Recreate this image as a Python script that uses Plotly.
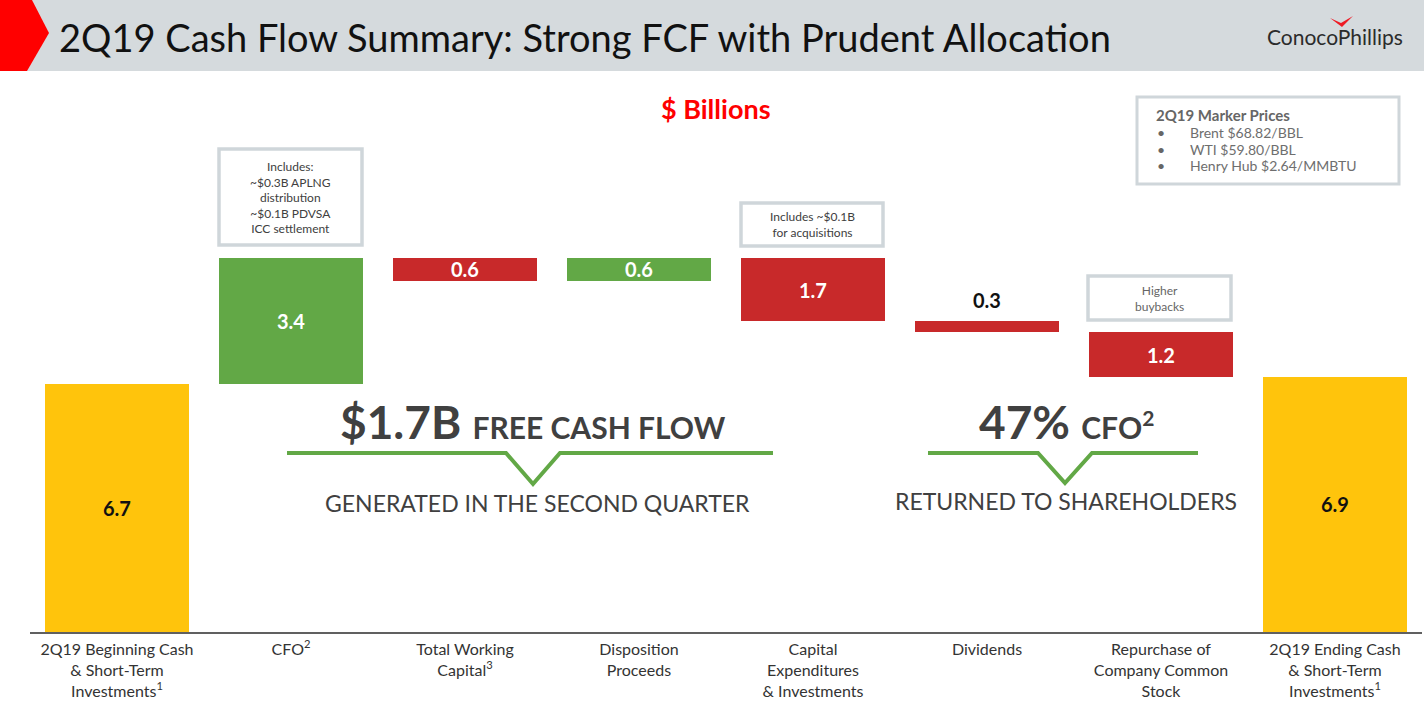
import plotly.graph_objects as go

W, H = 1424, 712

# ---------------- data ----------------
categories = [
    "2Q19 Beginning Cash<br>& Short-Term<br>Investments<sup>1</sup>",
    "CFO<sup>2</sup>",
    "Total Working<br>Capital<sup>3</sup>",
    "Disposition<br>Proceeds",
    "Capital<br>Expenditures<br>& Investments",
    "Dividends",
    "Repurchase of<br>Company Common<br>Stock",
    "2Q19 Ending Cash<br>& Short-Term<br>Investments<sup>1</sup>",
]
start_value = 6.7
changes = [3.4, -0.6, 0.6, -1.7, -0.3, -1.2]
end_value = 6.9
value_labels = ["6.7", "3.4", "0.6", "0.6", "1.7", "0.3", "1.2", "6.9"]

YELLOW = "#ffc40c"
GREEN = "#62a846"
RED = "#c8292a"
GREY_BORDER = "#cfd6da"
DARK = "#404040"

# ---------------- waterfall geometry from data ----------------
bases, heights, colors = [0.0], [start_value], [YELLOW]
level = start_value
for c in changes:
    if c >= 0:
        bases.append(level)
        heights.append(c)
        colors.append(GREEN)
    else:
        bases.append(level + c)
        heights.append(-c)
        colors.append(RED)
    level += c
bases.append(0.0)
heights.append(end_value)
colors.append(YELLOW)
tops = [b + h for b, h in zip(bases, heights)]
mids = [b + h / 2 for b, h in zip(bases, heights)]


def X(px):
    return px / W


def Y(py):
    return 1 - py / H


fig = go.Figure()
fig.add_trace(go.Bar(
    x=list(range(len(categories))),
    y=heights,
    base=bases,
    marker=dict(color=colors, line=dict(width=0)),
    width=0.833,
    hoverinfo="skip",
))

annotations = []
shapes = []

# value labels
for i, (lab, m) in enumerate(zip(value_labels, mids)):
    if i == 5:  # dividends - label above the thin bar
        annotations.append(dict(x=i, y=tops[i], xref="x", yref="y", text="<b>%s</b>" % lab,
                                showarrow=False, yanchor="middle", yshift=21,
                                font=dict(family="Lato", size=20, color="#111111")))
    else:
        col = "#111111" if colors[i] == YELLOW else "#ffffff"
        annotations.append(dict(x=i, y=m, xref="x", yref="y", text="<b>%s</b>" % lab,
                                showarrow=False, yanchor="middle",
                                font=dict(family="Lato", size=20, color=col)))

# ---------------- header ----------------
shapes.append(dict(type="rect", xref="paper", yref="paper", x0=0, x1=1, y0=Y(71), y1=1,
                   fillcolor="#d5dadd", line=dict(width=0), layer="below"))
shapes.append(dict(type="path", xref="paper", yref="paper",
                   path="M %f,%f L %f,%f L %f,%f L %f,%f L %f,%f Z" % (
                       X(0), Y(0), X(32), Y(0), X(49), Y(33), X(27), Y(71), X(0), Y(71)),
                   fillcolor="#ff0000", line=dict(width=0)))
annotations.append(dict(x=X(57), y=Y(37), xref="paper", yref="paper", xanchor="left", yanchor="middle",
                        text="2Q19 Cash Flow Summary: Strong FCF with Prudent Allocation", showarrow=False,
                        font=dict(family="Lato", size=38, color="#111111")))
# logo
annotations.append(dict(x=X(1265), y=Y(36), xref="paper", yref="paper", xanchor="left", yanchor="middle",
                        text="ConocoPhillips", showarrow=False,
                        font=dict(family="Lato", size=21, color="#2b2b2b")))
shapes.append(dict(type="path", xref="paper", yref="paper",
                   path="M %f,%f L %f,%f L %f,%f L %f,%f Z" % (
                       X(1330), Y(18), X(1342), Y(27), X(1353), Y(16), X(1341), Y(23)),
                   fillcolor="#ee1c25", line=dict(width=0)))

# $ Billions
annotations.append(dict(x=X(716), y=Y(108), xref="paper", yref="paper", xanchor="center", yanchor="middle",
                        text="<b>$ Billions</b>", showarrow=False,
                        font=dict(family="Lato", size=27, color="#ff0000")))

# ---------------- marker prices box ----------------
shapes.append(dict(type="rect", xref="paper", yref="paper", x0=X(1137), x1=X(1399), y0=Y(184), y1=Y(97),
                   fillcolor="white", line=dict(color=GREY_BORDER, width=3)))
annotations.append(dict(x=X(1154), y=Y(115), xref="paper", yref="paper", xanchor="left", yanchor="middle",
                        text="<b>2Q19 Marker Prices</b>", showarrow=False,
                        font=dict(family="Lato", size=15, color="#666666")))
price_lines = ["Brent $68.82/BBL", "WTI $59.80/BBL", "Henry Hub $2.64/MMBTU"]
for k, (t, yy) in enumerate(zip(price_lines, [132, 149, 166])):
    annotations.append(dict(x=X(1155), y=Y(yy), xref="paper", yref="paper", xanchor="left", yanchor="middle",
                            text="•", showarrow=False, font=dict(family="Lato", size=14, color="#666666")))
    annotations.append(dict(x=X(1188), y=Y(yy), xref="paper", yref="paper", xanchor="left", yanchor="middle",
                            text=t, showarrow=False, font=dict(family="Lato", size=14, color="#6e6e6e")))

# ---------------- callout boxes ----------------
def callout(x0, x1, y0, y1, text, size=12, color=DARK):
    shapes.append(dict(type="rect", xref="paper", yref="paper", x0=X(x0), x1=X(x1), y0=Y(y1), y1=Y(y0),
                       fillcolor="white", line=dict(color=GREY_BORDER, width=3.5)))
    annotations.append(dict(x=X((x0 + x1) / 2), y=Y((y0 + y1) / 2), xref="paper", yref="paper",
                            xanchor="center", yanchor="middle", text=text, showarrow=False,
                            font=dict(family="Lato", size=size, color=color)))


callout(219, 362, 149, 245, "Includes:<br>~$0.3B APLNG<br>distribution<br>~$0.1B PDVSA<br>ICC settlement", 12)
callout(741, 883, 203, 246, "Includes ~$0.1B<br>for acquisitions", 12)
callout(1088, 1231, 276, 320, "Higher<br>buybacks", 12, "#666666")

# ---------------- FCF messages ----------------
def bracket(xl, xr, xv, yl, dv, hw):
    shapes.append(dict(type="path", xref="paper", yref="paper",
                       path="M %f,%f L %f,%f L %f,%f L %f,%f L %f,%f" % (
                           X(xl), Y(yl), X(xv - hw), Y(yl), X(xv), Y(yl + dv),
                           X(xv + hw), Y(yl), X(xr), Y(yl)),
                       line=dict(color=GREEN, width=4)))


bracket(287, 773, 533, 453, 31, 27)
bracket(928, 1198, 1065, 453, 30, 27)

annotations.append(dict(x=X(533), y=Y(422), xref="paper", yref="paper", xanchor="center", yanchor="middle",
                        text="<b>$1.7B <span style='font-size:30px'>FREE CASH FLOW</span></b>", showarrow=False,
                        font=dict(family="Lato", size=46, color=DARK)))
annotations.append(dict(x=X(537), y=Y(503), xref="paper", yref="paper", xanchor="center", yanchor="middle",
                        text="GENERATED IN THE SECOND QUARTER", showarrow=False,
                        font=dict(family="Lato", size=23, color=DARK)))
annotations.append(dict(x=X(1066), y=Y(421), xref="paper", yref="paper", xanchor="center", yanchor="middle",
                        text="<b>47% <span style='font-size:30px'>CFO<sup>2</sup></span></b>", showarrow=False,
                        font=dict(family="Lato", size=46, color=DARK)))
annotations.append(dict(x=X(1066), y=Y(501), xref="paper", yref="paper", xanchor="center", yanchor="middle",
                        text="RETURNED TO SHAREHOLDERS", showarrow=False,
                        font=dict(family="Lato", size=23, color=DARK)))

fig.update_layout(
    width=W, height=H,
    margin=dict(l=0, r=0, t=0, b=0),
    paper_bgcolor="white", plot_bgcolor="white",
    showlegend=False,
    bargap=0,
    shapes=shapes,
    annotations=annotations,
    xaxis=dict(domain=[X(30), X(1422)], range=[-0.5, len(categories) - 0.5],
               tickmode="array", tickvals=list(range(len(categories))), ticktext=categories,
               tickfont=dict(family="Lato", size=16, color="#333333"),
               ticklabelstandoff=2,
               showline=True, linecolor="#606060", linewidth=2, ticks="",
               showgrid=False, zeroline=False, automargin=False, fixedrange=True),
    yaxis=dict(domain=[Y(632), Y(80)], range=[0, 552 / 37.0], visible=False,
               showgrid=False, zeroline=False, automargin=False, fixedrange=True),
)

fig.write_html("out.html", config={"displayModeBar": False, "staticPlot": True},
               post_script="document.body.style.margin='0px';document.body.style.overflow='hidden';")
